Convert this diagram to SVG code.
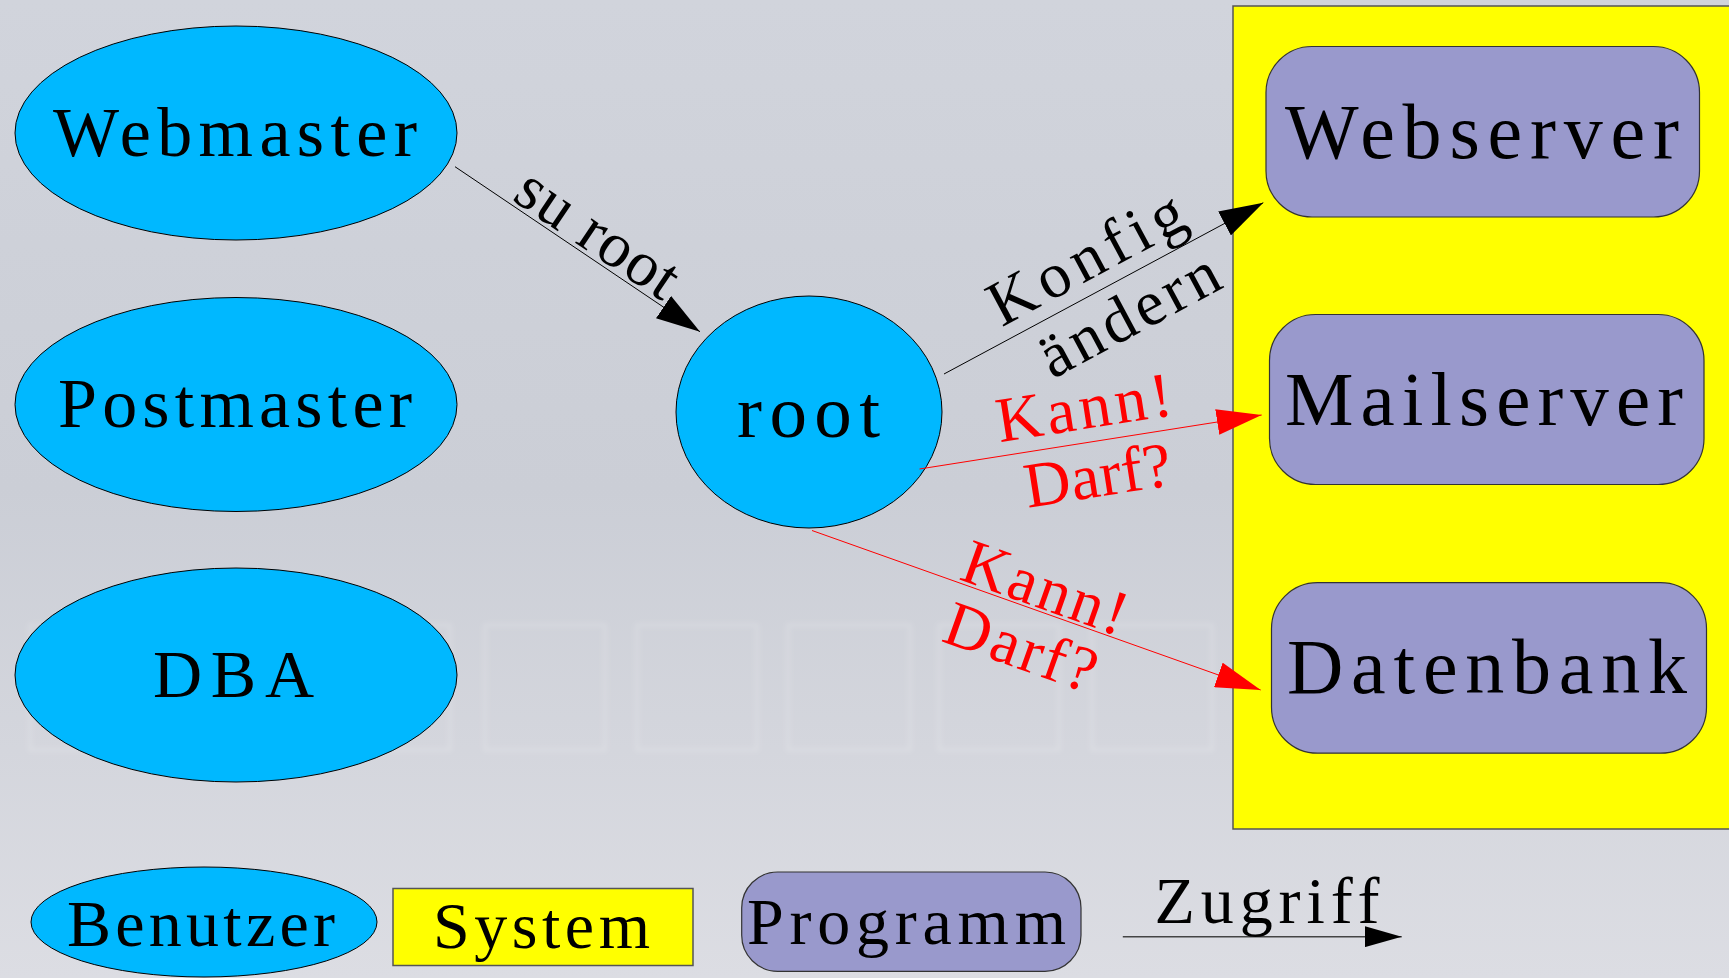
<svg xmlns="http://www.w3.org/2000/svg" width="1729" height="978" viewBox="0 0 1729 978">
  <defs>
    <linearGradient id="bg" x1="0" y1="0" x2="0" y2="1">
      <stop offset="0" stop-color="#d1d4dc"/>
      <stop offset="0.5" stop-color="#cbced6"/>
      <stop offset="1" stop-color="#dcdde3"/>
    </linearGradient>
    <filter id="soft" x="-5%" y="-5%" width="110%" height="110%">
      <feGaussianBlur stdDeviation="2.5"/>
    </filter>
    <marker id="headBlack" markerUnits="userSpaceOnUse" markerWidth="44" markerHeight="27" refX="44" refY="13.5" orient="auto">
      <path d="M0,0 L44,13.5 L0,27 Z" fill="#000"/>
    </marker>
    <marker id="headRed" markerUnits="userSpaceOnUse" markerWidth="45" markerHeight="26" refX="45" refY="13" orient="auto">
      <path d="M0,0 L45,13 L0,26 Z" fill="#ff0000"/>
    </marker>
    <marker id="headSmall" markerUnits="userSpaceOnUse" markerWidth="37" markerHeight="21" refX="37" refY="10.5" orient="auto">
      <path d="M0,0 L37,10.5 L0,21 Z" fill="#000"/>
    </marker>
  </defs>
  <style>
    .user { fill: #00b8ff; stroke: #000; stroke-width: 1; }
    .prog { fill: #9999cc; stroke: #333; stroke-width: 1.2; }
    .sys { fill: #ffff00; stroke: #555; stroke-width: 1.5; }
    .t { font-family: "Liberation Serif", "Times New Roman", serif; fill: #000; text-anchor: middle; }
    .lbl { font-family: "Liberation Serif", "Times New Roman", serif; font-size: 64px; text-anchor: middle; }
    .black { fill: #000; }
    .red { fill: #ff0000; }
    .edge { fill: none; stroke-width: 1; }
  </style>

  <!-- backdrop -->
  <rect x="0" y="0" width="1729" height="978" fill="url(#bg)"/>
  <g id="backdrop-texture" fill="none" stroke="#ffffff" stroke-opacity="0.18" stroke-width="3" filter="url(#soft)">
    <rect x="30" y="625" width="420" height="125"/>
    <rect x="485" y="625" width="120" height="125"/>
    <rect x="637" y="625" width="120" height="125"/>
    <rect x="788" y="625" width="122" height="125"/>
    <rect x="939" y="625" width="120" height="125"/>
    <rect x="1092" y="625" width="120" height="125"/>
  </g>

  <!-- system frame -->
  <g id="system">
    <rect class="sys" x="1233" y="6" width="510" height="823"/>
  </g>

  <!-- users -->
  <g id="webmaster">
    <ellipse class="user" cx="236" cy="133" rx="221" ry="107"/>
    <text class="t" x="235" y="156" font-size="70" textLength="364" lengthAdjust="spacing">Webmaster</text>
  </g>
  <g id="postmaster">
    <ellipse class="user" cx="236" cy="404.5" rx="221" ry="107"/>
    <text class="t" x="235" y="427" font-size="70" textLength="354" lengthAdjust="spacing">Postmaster</text>
  </g>
  <g id="dba">
    <ellipse class="user" cx="236" cy="675" rx="221" ry="107"/>
    <text class="t" x="233.5" y="697" font-size="68" textLength="161" lengthAdjust="spacing">DBA</text>
  </g>
  <g id="root">
    <ellipse class="user" cx="809" cy="412" rx="133" ry="116"/>
    <text class="t" x="808.5" y="437" font-size="75" textLength="143" lengthAdjust="spacing">root</text>
  </g>

  <!-- programs -->
  <g id="webserver">
    <rect class="prog" x="1266" y="46.5" width="433.5" height="170.5" rx="46" ry="46"/>
    <text class="t" x="1482" y="158" font-size="78" textLength="394" lengthAdjust="spacing">Webserver</text>
  </g>
  <g id="mailserver">
    <rect class="prog" x="1269.5" y="314.5" width="434.5" height="170" rx="46" ry="46"/>
    <text class="t" x="1484" y="425" font-size="77" textLength="398" lengthAdjust="spacing">Mailserver</text>
  </g>
  <g id="datenbank">
    <rect class="prog" x="1271.5" y="582.7" width="435" height="170.5" rx="46" ry="46"/>
    <text class="t" x="1487" y="693" font-size="78" textLength="400" lengthAdjust="spacing">Datenbank</text>
  </g>

  <!-- connectors -->
  <g id="connectors">
    <line class="edge" x1="455" y1="166.7" x2="700" y2="331.7" stroke="#000" marker-end="url(#headBlack)"/>
    <line class="edge" x1="944" y1="374" x2="1263.3" y2="202.7" stroke="#000" marker-end="url(#headBlack)"/>
    <line class="edge" x1="919.5" y1="469" x2="1261.7" y2="415" stroke="#ff0000" marker-end="url(#headRed)"/>
    <line class="edge" x1="812" y1="530.5" x2="1260.7" y2="690" stroke="#ff0000" marker-end="url(#headRed)"/>

    <g transform="translate(584.4,253.8) rotate(33.96)">
      <text class="lbl black" x="0" y="-4" textLength="183" lengthAdjust="spacing">su root</text>
    </g>
    <g transform="translate(1107,286.6) rotate(-28.21)">
      <text class="lbl black" x="-5" y="-14" textLength="214" lengthAdjust="spacing">Konfig</text>
      <text class="lbl black" x="6" y="56" textLength="196" lengthAdjust="spacing">ändern</text>
    </g>
    <g transform="translate(1090.4,442.2) rotate(-8.9)">
      <text class="lbl red" x="-1" y="-14" textLength="177" lengthAdjust="spacing">Kann!</text>
      <text class="lbl red" x="2" y="55" textLength="148" lengthAdjust="spacing">Darf?</text>
    </g>
    <g transform="translate(1035.3,609.9) rotate(19.57)">
      <text class="lbl red" x="2" y="-3" textLength="171" lengthAdjust="spacing">Kann!</text>
      <text class="lbl red" x="-1" y="61" textLength="157" lengthAdjust="spacing">Darf?</text>
    </g>
  </g>

  <!-- legend -->
  <g id="legend-benutzer">
    <ellipse class="user" cx="204" cy="922" rx="173" ry="55"/>
    <text class="t" x="201" y="946" font-size="66" textLength="268" lengthAdjust="spacing">Benutzer</text>
  </g>
  <g id="legend-system">
    <rect class="sys" x="393" y="888.5" width="300" height="77" stroke="#333" stroke-width="1.2"/>
    <text class="t" x="541.5" y="948" font-size="66" textLength="217" lengthAdjust="spacing">System</text>
  </g>
  <g id="legend-programm">
    <rect class="prog" x="741.7" y="872" width="339.3" height="99.3" rx="36" ry="36"/>
    <text class="t" x="906.5" y="944" font-size="66" textLength="319" lengthAdjust="spacing">Programm</text>
  </g>
  <g id="legend-zugriff">
    <line x1="1122.8" y1="936.7" x2="1401.7" y2="936.7" stroke="#444" stroke-width="1.5" marker-end="url(#headSmall)"/>
    <text class="t" x="1267" y="923" font-size="66" textLength="225" lengthAdjust="spacing">Zugriff</text>
  </g>
</svg>
